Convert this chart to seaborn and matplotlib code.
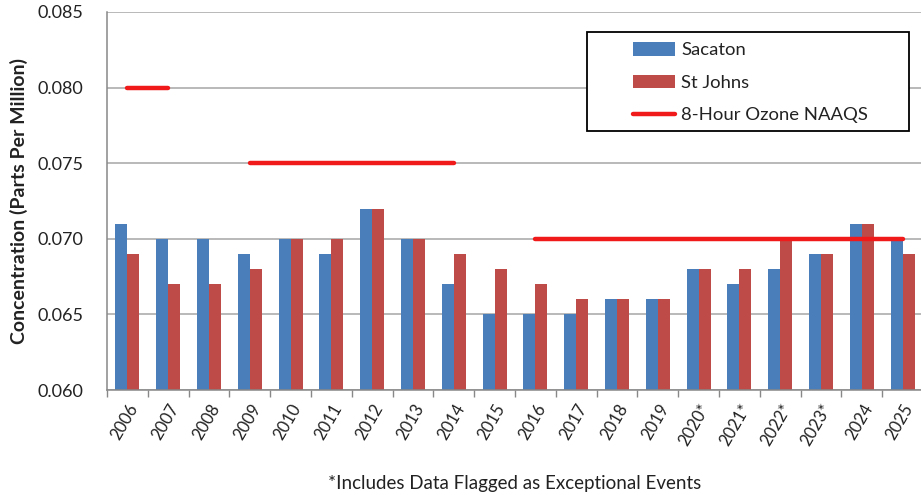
import numpy as np
import pandas as pd
import matplotlib
matplotlib.use("Agg")
import matplotlib.pyplot as plt
from matplotlib.patches import Patch, Rectangle
from matplotlib.lines import Line2D
import seaborn as sns

years = ["2006", "2007", "2008", "2009", "2010", "2011", "2012", "2013", "2014", "2015",
         "2016", "2017", "2018", "2019", "2020*", "2021*", "2022*", "2023*", "2024", "2025"]
sacaton = [0.071, 0.070, 0.070, 0.069, 0.070, 0.069, 0.072, 0.070, 0.067, 0.065,
           0.065, 0.065, 0.066, 0.066, 0.068, 0.067, 0.068, 0.069, 0.071, 0.070]
st_johns = [0.069, 0.067, 0.067, 0.068, 0.070, 0.070, 0.072, 0.070, 0.069, 0.068,
            0.067, 0.066, 0.066, 0.066, 0.068, 0.068, 0.070, 0.069, 0.071, 0.069]
naaqs = [0.080, 0.080, np.nan, 0.075, 0.075, 0.075, 0.075, 0.075, 0.075, np.nan,
         0.070, 0.070, 0.070, 0.070, 0.070, 0.070, 0.070, 0.070, 0.070, 0.070]
series_names = ["Sacaton", "St Johns"]
line_name = "8-Hour Ozone NAAQS"
y_ticks = [0.060, 0.065, 0.070, 0.075, 0.080, 0.085]
footnote = "*Includes Data Flagged as Exceptional Events"
ylabel = "Concentration (Parts Per Million)"

colors = {"Sacaton": "#4A7EBB", "St Johns": "#BE4B48"}
line_color = "#F01A1A"

sns.set_theme(style="white")
plt.rcParams["font.family"] = ["Lato", "DejaVu Sans"]

df = pd.DataFrame({
    "Year": years * 2,
    "Station": [series_names[0]] * len(years) + [series_names[1]] * len(years),
    "Value": sacaton + st_johns,
})

fig = plt.figure(figsize=(9.21, 4.95), dpi=100)
ax = fig.add_axes([107 / 921, 105 / 495, 816 / 921, 378 / 495])

sns.barplot(data=df, x="Year", y="Value", hue="Station", order=years,
            hue_order=series_names, palette=colors, width=0.59, gap=0,
            saturation=1, ax=ax, legend=False, errorbar=None, linewidth=0)

xpos = np.arange(len(years))
ax.plot(xpos, naaqs, color=line_color, lw=3.2, solid_capstyle="round", zorder=5)

ax.set_ylim(0.060, 0.085)
ax.set_xlim(-0.5, len(years) - 0.5)
ax.set_yticks(y_ticks)
ax.set_yticklabels([f"{v:.3f}" for v in y_ticks], fontsize=13, color="#222222")
ax.yaxis.grid(True, color="#A6A6A6", lw=1.1)
ax.set_axisbelow(True)

ax.set_xticks(xpos)
ax.set_xticklabels(years, rotation=60, ha="right", rotation_mode="anchor",
                   fontsize=12, color="#222222")
ax.set_xticks(np.arange(-0.5, len(years)), minor=True)
ax.tick_params(axis="x", which="major", length=0, pad=8)
ax.tick_params(axis="x", which="minor", length=5, color="#888888", width=1, direction="out", bottom=True)
ax.tick_params(axis="y", length=0, pad=17)

ax.set_xlabel("")
ax.set_ylabel(ylabel, fontsize=14, fontweight="bold", color="#222222", labelpad=7)

for s in ["top", "right"]:
    ax.spines[s].set_visible(False)
for s in ["left", "bottom"]:
    ax.spines[s].set_color("#888888")
    ax.spines[s].set_linewidth(1.1)

# legend
handles = [Patch(facecolor=colors["Sacaton"], edgecolor="none"),
           Patch(facecolor=colors["St Johns"], edgecolor="none"),
           Line2D([0], [0], color=line_color, lw=3.2)]
leg = ax.legend(handles, series_names + [line_name], loc="upper left",
                bbox_to_anchor=(0.6446, 0.92), frameon=False, borderpad=0,
                fontsize=13.3, handlelength=2.3, handleheight=0.75,
                handletextpad=0.3, labelspacing=0.88, borderaxespad=0)
for t in leg.get_texts():
    t.set_color("#222222")
ax.add_patch(Rectangle((0.588, 0.685), 0.395, 0.262, transform=ax.transAxes,
                       fill=True, facecolor="white", edgecolor="black", lw=1.3, zorder=6))
leg.set_zorder(7)

fig.text(0.5 * (107 + 923) / 921, 1 - 484 / 495, footnote, ha="center", va="center",
         fontsize=13.5, color="#222222")

fig.savefig("out.png", dpi=100)
